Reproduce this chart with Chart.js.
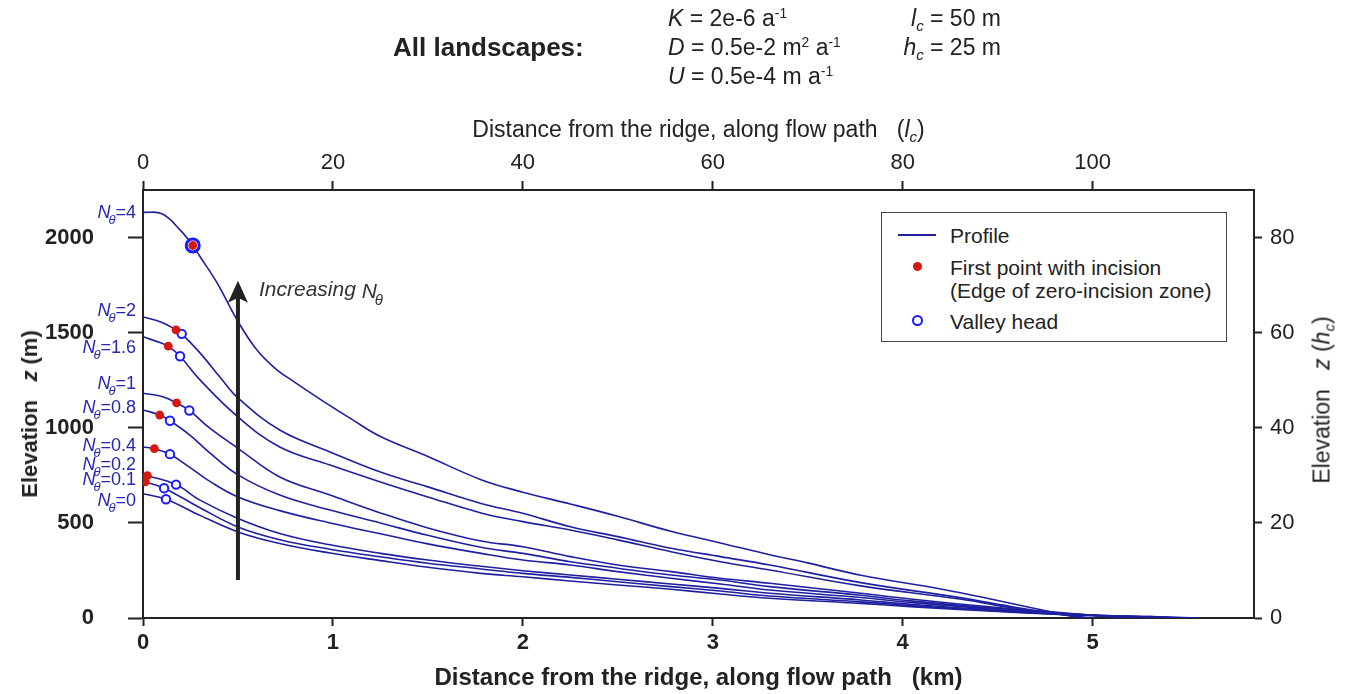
<!DOCTYPE html>
<html>
<head>
<meta charset="utf-8">
<script src="https://cdn.jsdelivr.net/npm/chart.js@4.4.1/dist/chart.umd.min.js"></script>
<style>
    body { margin: 0; background: #fff; font-family: "Liberation Sans", Arial, sans-serif; color: #222; }
    #wrap { position: relative; width: 1352px; height: 694px; overflow: hidden; }
    #chart { position: absolute; left: 0; top: 0; }
    .t { position: absolute; white-space: nowrap; line-height: 1; }
    .param { font-size: 23px; }
    .sup { font-size: 0.6em; position: relative; top: -0.55em; }
    .sub { font-size: 0.65em; position: relative; top: 0.35em; }
    .rot { transform: translate(-50%, -50%) rotate(-90deg); }
    #legend { position: absolute; left: 881px; top: 212px; width: 344px; height: 128px; border: 1.5px solid #444; background: #fff; }
    #legend .lt { position: absolute; left: 68px; font-size: 21px; line-height: 1; white-space: nowrap; transform: translateY(-50%); }
    .swatch-line { position: absolute; left: 16px; top: 21px; width: 38px; height: 2px; background: #1f1fa0; }
    .swatch-dot { position: absolute; left: 31px; top: 49px; width: 9px; height: 9px; border-radius: 50%; background: #d41a10; }
    .swatch-ring { position: absolute; left: 30px; top: 102px; width: 7px; height: 7px; border-radius: 50%; border: 2px solid #1a1aff; background: #fff; }
</style>
</head>
<body>
<div id="wrap">
    <canvas id="chart" width="1352" height="694"></canvas>

    <div class="t" style="left:393px;top:34px;font-size:26px;font-weight:bold;">All landscapes:</div>
    <div class="t param" style="left:668px;top:7px;"><i>K</i> = 2e-6 a<span class="sup">-1</span></div>
    <div class="t param" style="left:668px;top:36px;"><i>D</i> = 0.5e-2 m<span class="sup">2</span> a<span class="sup">-1</span></div>
    <div class="t param" style="left:668px;top:65px;"><i>U</i> = 0.5e-4 m a<span class="sup">-1</span></div>
    <div class="t param" style="right:351px;top:7px;"><i>l</i><span class="sub"><i>c</i></span> = 50 m</div>
    <div class="t param" style="right:351px;top:36px;"><i>h</i><span class="sub"><i>c</i></span> = 25 m</div>

    <div class="t" style="left:143px;width:1111px;text-align:center;top:118px;font-size:23px;">Distance from the ridge, along flow path &nbsp;&nbsp;(<i>l</i><span class="sub"><i>c</i></span>)</div>
    <div class="t rot" style="left:30px;top:414px;font-size:22px;font-weight:bold;">Elevation &nbsp;&nbsp;<i>z</i> (m)</div>
    <div class="t rot" style="left:1322px;top:400px;font-size:23px;">Elevation &nbsp;&nbsp;<i>z</i> (<i>h</i><span class="sub"><i>c</i></span>)</div>

    <div id="legend">
        <div class="swatch-line"></div>
        <div class="lt" style="top:22px;">Profile</div>
        <div class="swatch-dot"></div>
        <div class="lt" style="top:54px;">First point with incision</div>
        <div class="lt" style="top:77px;">(Edge of zero-incision zone)</div>
        <div class="swatch-ring"></div>
        <div class="lt" style="top:108px;">Valley head</div>
    </div>
</div>

<script>
// N_theta value of each landscape, top profile first
const nTheta = ['4', '2', '1.6', '1', '0.8', '0.4', '0.2', '0.1', '0'];

// profiles: distance along flow path (km) and elevation (m)
const dist_4 = [0, 0.1, 0.195, 0.262, 0.3, 0.39, 0.5, 0.6, 0.7, 0.8, 0.95, 1.1, 1.25, 1.5, 1.78, 2.0, 2.25, 2.5, 2.78, 3.04, 3.3, 3.5, 3.78, 4.2, 4.5, 4.83, 4.95];
const elev_4 = [2135, 2127, 2042, 1960, 1902, 1763, 1560, 1410, 1310, 1240, 1140, 1045, 955, 850, 728, 662, 600, 535, 456, 395, 333, 290, 225, 153, 92, 22, 0];

const dist_2 = [0, 0.1, 0.174, 0.204, 0.3, 0.405, 0.5, 0.72, 0.985, 1.25, 1.5, 1.78, 2.0, 2.25, 2.5, 2.78, 3.04, 3.3, 3.78, 4.3, 4.6, 4.9, 4.97];
const elev_2 = [1584, 1555, 1516, 1495, 1395, 1268, 1158, 989, 874, 768, 690, 603, 551, 480, 428, 367, 323, 279, 186, 107, 55, 8, 0];

const dist_16 = [0, 0.1, 0.133, 0.195, 0.3, 0.5, 0.72, 0.985, 1.25, 1.5, 1.78, 2.0, 2.25, 2.5, 2.78, 3.04, 3.3, 3.78, 4.3, 4.6, 4.9, 5.0];
const elev_16 = [1480, 1445, 1430, 1377, 1253, 1058, 900, 805, 716, 637, 553, 507, 463, 411, 349, 296, 253, 169, 100, 50, 10, 0];

const dist_1 = [0, 0.1, 0.177, 0.244, 0.35, 0.5, 0.72, 0.985, 1.25, 1.5, 1.78, 2.0, 2.25, 2.5, 2.78, 3.04, 3.3, 3.78, 4.04, 4.5, 4.9, 5.1, 5.2];
const elev_1 = [1183, 1165, 1132, 1092, 1000, 893, 742, 647, 553, 474, 405, 375, 323, 279, 244, 209, 183, 130, 100, 55, 22, 5, 0];

const dist_08 = [0, 0.088, 0.142, 0.25, 0.35, 0.5, 0.72, 0.985, 1.25, 1.5, 1.78, 2.0, 2.25, 2.5, 2.78, 3.04, 3.3, 3.78, 4.04, 4.5, 4.9, 5.15, 5.25];
const elev_08 = [1095, 1068, 1038, 960, 870, 753, 647, 568, 500, 435, 372, 340, 296, 262, 226, 200, 165, 120, 90, 50, 22, 5, 0];

const dist_04 = [0, 0.06, 0.142, 0.25, 0.35, 0.5, 0.72, 0.985, 1.25, 1.5, 1.78, 2.0, 2.25, 2.5, 2.78, 3.04, 3.3, 3.78, 4.04, 4.5, 4.9, 5.3, 5.35];
const elev_04 = [900, 891, 862, 790, 720, 637, 565, 500, 443, 390, 340, 305, 279, 244, 209, 179, 147, 108, 82, 45, 20, 5, 0];

const dist_02 = [0, 0.023, 0.174, 0.3, 0.5, 0.72, 0.985, 1.25, 1.5, 1.78, 2.0, 2.25, 2.5, 2.78, 3.04, 3.3, 3.78, 4.04, 4.5, 4.9, 5.3, 5.45];
const elev_02 = [753, 749, 702, 620, 524, 445, 385, 340, 305, 272, 249, 226, 204, 179, 156, 130, 95, 72, 40, 18, 6, 0];

const dist_01 = [0, 0.012, 0.111, 0.3, 0.5, 0.72, 0.985, 1.25, 1.5, 1.78, 2.0, 2.25, 2.5, 2.78, 3.04, 3.3, 3.78, 4.04, 4.5, 4.9, 5.3, 5.5];
const elev_01 = [718, 716, 683, 580, 479, 412, 362, 322, 288, 258, 235, 214, 191, 165, 142, 116, 85, 66, 37, 17, 7, 0];

const dist_0 = [0, 0.121, 0.3, 0.5, 0.72, 0.985, 1.25, 1.5, 1.78, 2.0, 2.25, 2.5, 2.78, 3.04, 3.3, 3.78, 4.04, 4.5, 4.9, 5.3, 5.56];
const elev_0 = [654, 625, 540, 453, 392, 342, 302, 267, 235, 217, 195, 174, 151, 126, 104, 77, 60, 34, 16, 7, 0];

// first point with incision (no visible point for N=0)
const incisionDist = [0.262, 0.174, 0.133, 0.177, 0.088, 0.06, 0.023, 0.012];
const incisionElev = [1960, 1516, 1430, 1132, 1068, 891, 749, 716];

// valley heads
const headDist = [0.262, 0.204, 0.195, 0.244, 0.142, 0.142, 0.174, 0.111, 0.121];
const headElev = [1960, 1495, 1377, 1092, 1038, 862, 702, 683, 625];

// axes
const kmTicks = [0, 1, 2, 3, 4, 5];
const lcTicks = [0, 20, 40, 60, 80, 100];
const elevTicks = [0, 500, 1000, 1500, 2000];
const hcTicks = [0, 20, 40, 60, 80];
const xMaxKm = 5.85;
const yMaxM = 2252;
const lcKm = 0.05;  // l_c = 50 m
const hcM = 25;     // h_c = 25 m

// "Increasing N_theta" arrow, in km / m
const arrowKm = 0.5;
const arrowFromM = 200;
const arrowToM = 1775;

const profiles = [
    [dist_4, elev_4], [dist_2, elev_2], [dist_16, elev_16], [dist_1, elev_1], [dist_08, elev_08],
    [dist_04, elev_04], [dist_02, elev_02], [dist_01, elev_01], [dist_0, elev_0]
];

const FONT = '"Liberation Sans", Arial, sans-serif';
const INK = '#222';
const LINE_BLUE = '#1f1fa0';
const LABEL_BLUE = '#2626b4';
const RED = '#d41a10';
const RING_BLUE = '#1a1aff';

// vertical nudge (px) of each N label from its profile start
const labelNudge = [-1, -7, 10, -11, -3, -2, -11, -3, 6];

const toPoints = (xs, ys) => xs.map((x, i) => ({ x: x, y: ys[i] }));

function drawNLabel(ctx, x, cy, value, size, color, alignRight) {
    const main = `italic ${size}px ${FONT}`;
    const sub = `italic ${Math.round(size * 0.72)}px ${FONT}`;
    const plain = `${size}px ${FONT}`;
    ctx.font = main; const wN = ctx.measureText('N').width;
    ctx.font = sub; const wT = ctx.measureText('θ').width;
    ctx.font = plain; const wV = value === null ? 0 : ctx.measureText('=' + value).width;
    if (alignRight) x -= wN + wT + wV - 1;
    const base = cy + size * 0.36;
    ctx.fillStyle = color;
    ctx.textAlign = 'left';
    ctx.textBaseline = 'alphabetic';
    ctx.font = main; ctx.fillText('N', x, base);
    ctx.font = sub; ctx.fillText('θ', x + wN - 2, base + size * 0.33);
    if (value !== null) { ctx.font = plain; ctx.fillText('=' + value, x + wN + wT - 2, base); }
}

const annotations = {
    id: 'annotations',
    afterDraw(chart) {
        const { ctx, scales: { x, y } } = chart;
        ctx.save();

        // arrow
        const ax = x.getPixelForValue(arrowKm);
        const y0 = y.getPixelForValue(arrowFromM);
        const tip = y.getPixelForValue(arrowToM);
        ctx.strokeStyle = INK;
        ctx.fillStyle = INK;
        ctx.lineWidth = 4;
        ctx.beginPath();
        ctx.moveTo(ax, y0);
        ctx.lineTo(ax, tip + 16);
        ctx.stroke();
        ctx.beginPath();
        ctx.moveTo(ax, tip);
        ctx.lineTo(ax + 10, tip + 22);
        ctx.lineTo(ax, tip + 17);
        ctx.lineTo(ax - 10, tip + 22);
        ctx.closePath();
        ctx.fill();

        // "Increasing N_theta"
        ctx.font = `italic 21px ${FONT}`;
        ctx.fillStyle = '#333';
        ctx.textBaseline = 'middle';
        ctx.fillText('Increasing ', ax + 21, tip + 10);
        const w = ctx.measureText('Increasing ').width;
        drawNLabel(ctx, ax + 21 + w, tip + 10, null, 21, '#333', false);

        // N_theta labels next to each profile start
        nTheta.forEach((n, i) => {
            const cy = y.getPixelForValue(profiles[i][1][0]) + labelNudge[i];
            drawNLabel(ctx, 137, cy, n, 18, LABEL_BLUE, true);
        });
        ctx.restore();
    }
};

const lineDatasets = profiles.map((p, i) => ({
    label: 'N=' + nTheta[i],
    data: toPoints(p[0], p[1]),
    borderColor: LINE_BLUE,
    borderWidth: 1.6,
    pointRadius: 0,
    fill: false,
    tension: 0.4,
    xAxisID: 'x',
    yAxisID: 'y'
}));

const coincides = i => incisionDist.some((d, k) => d === headDist[i] && incisionElev[k] === headElev[i]);

const datasets = [
    {
        label: 'First point with incision',
        data: toPoints(incisionDist, incisionElev),
        showLine: false,
        pointRadius: 4.4,
        pointBorderWidth: 0,
        pointBackgroundColor: RED,
        pointBorderColor: RED
    },
    {
        label: 'Valley head',
        data: toPoints(headDist, headElev),
        showLine: false,
        pointRadius: ctx => coincides(ctx.dataIndex) ? 6.5 : 4.2,
        pointBorderWidth: ctx => coincides(ctx.dataIndex) ? 3 : 2,
        pointBackgroundColor: '#fff',
        pointBorderColor: RING_BLUE
    },
    ...lineDatasets
];

const tickFont = (bold) => ({ family: FONT, size: 22, weight: bold ? 'bold' : 'normal' });
const setTicks = list => scale => { scale.ticks = list.map(v => ({ value: v })); };

new Chart(document.getElementById('chart'), {
    type: 'line',
    data: { datasets: datasets },
    options: {
        responsive: false,
        animation: false,
        events: [],
        layout: { padding: 0 },
        plugins: { legend: { display: false }, tooltip: { enabled: false } },
        scales: {
            x: {
                type: 'linear', axis: 'x', position: 'bottom', min: 0, max: xMaxKm,
                afterBuildTicks: setTicks(kmTicks),
                afterFit: s => { s.height = 76; },
                grid: { drawOnChartArea: false, tickLength: 8, tickWidth: 2, tickColor: INK },
                border: { color: INK, width: 2 },
                ticks: { font: tickFont(true), color: INK, padding: 4, maxRotation: 0, callback: v => String(v) },
                title: {
                    display: true, text: 'Distance from the ridge, along flow path   (km)',
                    font: { family: FONT, size: 24, weight: 'bold' }, color: INK, padding: { top: 0, bottom: 1 }
                }
            },
            x2: {
                type: 'linear', axis: 'x', position: 'top', min: 0, max: xMaxKm / lcKm,
                afterBuildTicks: setTicks(lcTicks),
                afterFit: s => { s.height = 190; },
                grid: { drawOnChartArea: false, tickLength: 9, tickWidth: 2, tickColor: INK },
                border: { color: INK, width: 2 },
                ticks: { font: tickFont(false), color: INK, padding: 5, maxRotation: 0, callback: v => String(v) }
            },
            y: {
                type: 'linear', axis: 'y', position: 'left', min: 0, max: yMaxM,
                afterBuildTicks: setTicks(elevTicks),
                afterFit: s => { s.width = 143; },
                grid: { drawOnChartArea: false, tickLength: 15, tickWidth: 2, tickColor: INK },
                border: { color: INK, width: 2 },
                ticks: { font: tickFont(true), color: INK, padding: 34, callback: v => String(v) }
            },
            y2: {
                type: 'linear', axis: 'y', position: 'right', min: 0, max: yMaxM / hcM,
                afterBuildTicks: setTicks(hcTicks),
                afterFit: s => { s.width = 98; },
                grid: { drawOnChartArea: false, tickLength: 8, tickWidth: 2, tickColor: INK },
                border: { color: INK, width: 2 },
                ticks: { font: tickFont(false), color: INK, padding: 8, callback: v => String(v) }
            }
        }
    },
    plugins: [annotations]
});
</script>
</body>
</html>
